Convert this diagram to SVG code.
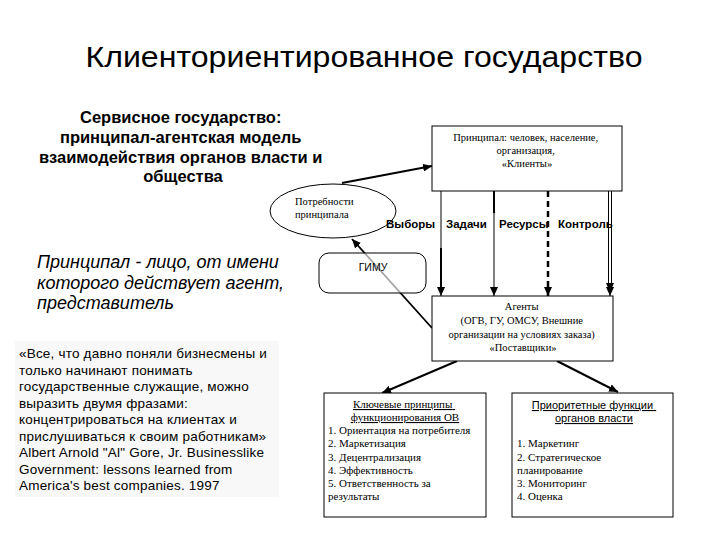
<svg xmlns="http://www.w3.org/2000/svg" width="720" height="540" viewBox="0 0 720 540">
<style>
.sans{font-family:"Liberation Sans",Arial,sans-serif;fill:#000}
.serif{font-family:"Liberation Serif","Times New Roman",serif;fill:#000}
.box{fill:#fff;stroke:#000;stroke-width:1}
.ln{stroke:#000;fill:none}
.small{font-size:10.5px}
.lst{font-size:11px}
.lbl{font-size:11.5px;font-weight:bold}
</style>
<defs>
<marker id="ah" markerUnits="userSpaceOnUse" markerWidth="9" markerHeight="8" refX="9" refY="4" orient="auto">
<path d="M0,0 L9,4 L0,8 z" fill="#000"/>
</marker>
</defs>
<rect width="720" height="540" fill="#fff"/>

<g id="title">
<text class="sans" x="364" y="67" font-size="29" text-anchor="middle" textLength="557" lengthAdjust="spacingAndGlyphs">Клиенториентированное государство</text>
</g>

<g id="heading">
<text class="sans" font-size="16.5" font-weight="bold" text-anchor="middle">
<tspan x="183" y="123">Сервисное государство:</tspan>
<tspan x="183" y="143">принципал-агентская модель</tspan>
<tspan x="183" y="163">взаимодействия органов власти и</tspan>
<tspan x="183" y="182">общества</tspan>
</text>
</g>

<g id="definition">
<text class="sans" font-size="18" font-style="italic">
<tspan x="37" y="268">Принципал - лицо, от имени</tspan>
<tspan x="37" y="289">которого действует агент,</tspan>
<tspan x="37" y="309">представитель</tspan>
</text>
</g>

<g id="quote">
<rect x="15" y="341" width="264" height="156" fill="#f8f8f8"/>
<text class="sans" font-size="13.5" letter-spacing="0.2">
<tspan x="19" y="358">«Все, что давно поняли бизнесмены и</tspan>
<tspan x="19" y="374.5">только начинают понимать</tspan>
<tspan x="19" y="391">государственные служащие, можно</tspan>
<tspan x="19" y="407.5">выразить двумя фразами:</tspan>
<tspan x="19" y="424">концентрироваться на клиентах и</tspan>
<tspan x="19" y="440.5">прислушиваться к своим работникам»</tspan>
<tspan x="19" y="457">Albert Arnold "Al" Gore, Jr. Businesslike</tspan>
<tspan x="19" y="473.5">Government: lessons learned from</tspan>
<tspan x="19" y="490">America's best companies. 1997</tspan>
</text>
</g>

<g id="connectors">
<line class="ln" x1="342" y1="183" x2="432" y2="166" stroke-width="2" marker-end="url(#ah)"/>
<line class="ln" x1="441" y1="191" x2="441" y2="296" stroke-width="1" marker-end="url(#ah)"/>
<line class="ln" x1="441" y1="248" x2="441" y2="290" stroke-width="2"/>
<line class="ln" x1="494" y1="191" x2="494" y2="296" stroke-width="1" marker-end="url(#ah)"/>
<line class="ln" x1="494" y1="191" x2="494" y2="213" stroke-width="2"/>
<line class="ln" x1="548" y1="191" x2="548" y2="296" stroke-width="2.5" stroke-dasharray="6 4" marker-end="url(#ah)"/>
<line class="ln" x1="608.5" y1="191" x2="608.5" y2="290" stroke-width="1"/>
<line class="ln" x1="611.5" y1="191" x2="611.5" y2="290" stroke-width="1"/>
<line class="ln" x1="610" y1="285" x2="610" y2="292" stroke-width="1" marker-end="url(#ah)"/>
<line class="ln" x1="610" y1="289" x2="610" y2="296" stroke-width="1" marker-end="url(#ah)"/>
<line class="ln" x1="432" y1="328" x2="352" y2="239" stroke-width="1.8" stroke="#333" marker-end="url(#ah)"/>
<line class="ln" x1="457" y1="361" x2="382" y2="393" stroke-width="2" marker-end="url(#ah)"/>
<line class="ln" x1="557" y1="361" x2="618" y2="392" stroke-width="2" marker-end="url(#ah)"/>
</g>

<g id="labels">
<text class="sans lbl" x="386" y="228">Выборы</text>
<text class="sans lbl" x="446" y="228">Задачи</text>
<text class="sans lbl" x="499" y="228">Ресурсы</text>
<text class="sans lbl" x="558" y="228">Контроль</text>
</g>

<g id="principal">
<rect class="box" x="432" y="126" width="190" height="65"/>
<text class="serif small" text-anchor="middle">
<tspan x="527" y="141">Принципал: человек, население,</tspan>
<tspan x="527" y="154">организация,</tspan>
<tspan x="527" y="167">«Клиенты»</tspan>
</text>
</g>

<g id="needs">
<ellipse cx="333" cy="211" rx="63" ry="27" fill="none" stroke="#000" stroke-width="1"/>
<text class="serif small">
<tspan x="295" y="205">Потребности</tspan>
<tspan x="295" y="218">принципала</tspan>
</text>
</g>

<g id="gimu">
<rect x="319" y="253" width="107" height="40" rx="10" fill="#fff" fill-opacity="0.65" stroke="#000" stroke-width="1"/>
<text class="sans" x="373" y="271" font-size="10.5" text-anchor="middle">ГИМУ</text>
</g>

<g id="agents">
<rect class="box" x="432" y="296" width="181" height="65"/>
<text class="serif small" text-anchor="middle">
<tspan x="523" y="310">Агенты</tspan>
<tspan x="523" y="324">(ОГВ, ГУ, ОМСУ, Внешние</tspan>
<tspan x="523" y="337.5">организации на условиях заказа)</tspan>
<tspan x="523" y="351">«Поставщики»</tspan>
</text>
</g>

<g id="principles">
<rect class="box" x="324" y="393" width="162" height="124"/>
<text class="serif lst" text-anchor="middle" text-decoration="underline">
<tspan x="404" y="408">Ключевые принципы</tspan>
<tspan x="405" y="421">функционирования ОВ</tspan>
</text>
<text class="serif lst">
<tspan x="328" y="434">1. Ориентация на потребителя</tspan>
<tspan x="328" y="447">2. Маркетизация</tspan>
<tspan x="328" y="460.5">3. Децентрализация</tspan>
<tspan x="328" y="473.5">4. Эффективность</tspan>
<tspan x="328" y="487">5. Ответственность за</tspan>
<tspan x="328" y="500">результаты</tspan>
</text>
</g>

<g id="functions">
<rect class="box" x="512" y="393" width="161" height="124"/>
<text class="sans lst" text-anchor="middle" text-decoration="underline">
<tspan x="594" y="409">Приоритетные функции</tspan>
<tspan x="594" y="422">органов власти</tspan>
</text>
<text class="serif lst">
<tspan x="517" y="447">1. Маркетинг</tspan>
<tspan x="517" y="460.5">2. Стратегическое</tspan>
<tspan x="517" y="473.5">планирование</tspan>
<tspan x="517" y="487">3. Мониторинг</tspan>
<tspan x="517" y="500">4. Оценка</tspan>
</text>
</g>
</svg>
